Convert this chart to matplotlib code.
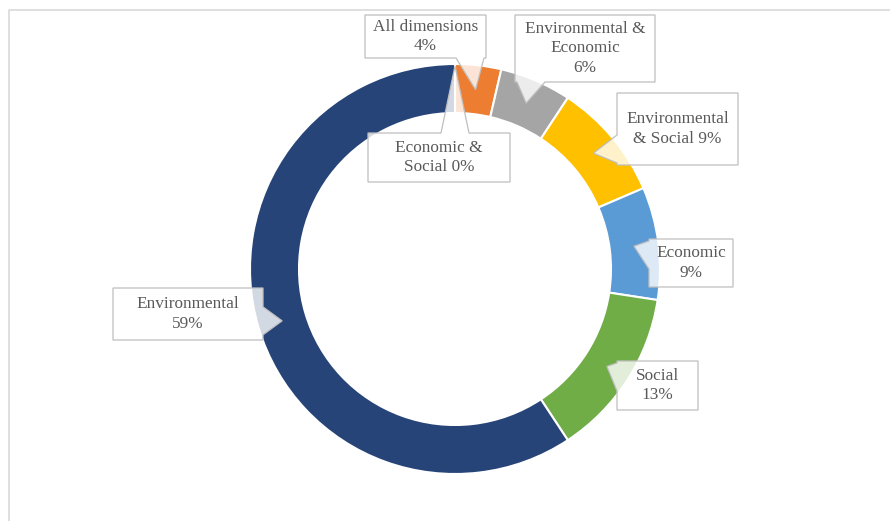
import matplotlib.pyplot as plt
from matplotlib.patches import Polygon
import numpy as np

plt.rcParams['font.family'] = ['Liberation Serif', 'DejaVu Serif']

# number of studies per sustainability dimension, clockwise from the top
categories = ['Economic & Social', 'All dimensions', 'Environmental & Economic',
              'Environmental & Social', 'Economic', 'Social', 'Environmental']
counts = [0, 9, 14, 23, 22, 33, 147]
colors = ['#4472C4', '#ED7D31', '#A5A5A5', '#FFC000', '#5B9BD5', '#70AD47', '#264478']

# how each callout breaks its text
label_fmt = ['Economic &\nSocial {}%', 'All dimensions\n{}%', 'Environmental &\nEconomic\n{}%',
             'Environmental\n& Social {}%', 'Economic\n{}%', 'Social\n{}%', 'Environmental\n{}%']

# callout boxes in pixels (x0, y0, x1, y1), y downwards
boxes = [(368, 133, 510, 182), (365, 15, 486, 58), (515, 15, 655, 82),
         (617, 93, 738, 165), (649, 239, 733, 287), (617, 361, 698, 410),
         (113, 288, 263, 340)]

W, H = 890, 521
cx, cy = 455, 269
R_out, R_in = 205, 156

fig = plt.figure(figsize=(W / 100, H / 100), dpi=100)
ax = fig.add_axes([0, 0, 1, 1])

ax.pie(counts, colors=colors, radius=R_out, center=(cx, cy), startangle=-90,
       counterclock=True,
       wedgeprops=dict(width=R_out - R_in, edgecolor='white', linewidth=1.5))
ax.set_xlim(0, W)
ax.set_ylim(H, 0)
ax.set_aspect('auto')
ax.axis('off')

# chart area border
ax.plot([8.5, 8.5, W], [H, 9.5, 9.5], color='#d9d9d9', lw=1.2, solid_capstyle='butt')


def callout(box, tip, base=28):
    x0, y0, x1, y1 = box
    tx, ty = tip
    pts = [(x0, y0), (x1, y0), (x1, y1), (x0, y1)]
    if ty < y0:
        c = np.clip(tx, x0 + base / 2 + 2, x1 - base / 2 - 2)
        wedge = [(c - base / 2, y0), (tx, ty), (c + base / 2, y0)]
        pts = pts[:1] + wedge + pts[1:]
    elif ty > y1:
        c = np.clip(tx, x0 + base / 2 + 2, x1 - base / 2 - 2)
        wedge = [(c + base / 2, y1), (tx, ty), (c - base / 2, y1)]
        pts = pts[:3] + wedge + pts[3:]
    elif tx > x1:
        c = np.clip(ty, y0 + base / 2 + 2, y1 - base / 2 - 2)
        wedge = [(x1, c - base / 2), (tx, ty), (x1, c + base / 2)]
        pts = pts[:2] + wedge + pts[2:]
    else:
        c = np.clip(ty, y0 + base / 2 + 2, y1 - base / 2 - 2)
        wedge = [(x0, c + base / 2), (tx, ty), (x0, c - base / 2)]
        pts = pts + wedge
    ax.add_patch(Polygon(pts, closed=True, facecolor=(1, 1, 1, 0.8),
                         edgecolor='#bfbfbf', lw=0.9, zorder=5))


total = sum(counts)
cum = np.cumsum([0] + counts)
for i, (fmt, box) in enumerate(zip(label_fmt, boxes)):
    pct = round(100 * counts[i] / total)
    mid = np.deg2rad(360 * (cum[i] + cum[i + 1]) / 2 / total)
    r = R_out - 2 if counts[i] == 0 else (R_out + R_in) / 2
    tip = (cx + r * np.sin(mid), cy - r * np.cos(mid))
    callout(box, tip)
    ax.text((box[0] + box[2]) / 2, (box[1] + box[3]) / 2, fmt.format(pct),
            ha='center', va='center', multialignment='center',
            fontsize=12.4, color='#595959', zorder=6, linespacing=1.27)

fig.savefig('out.png', dpi=100)
